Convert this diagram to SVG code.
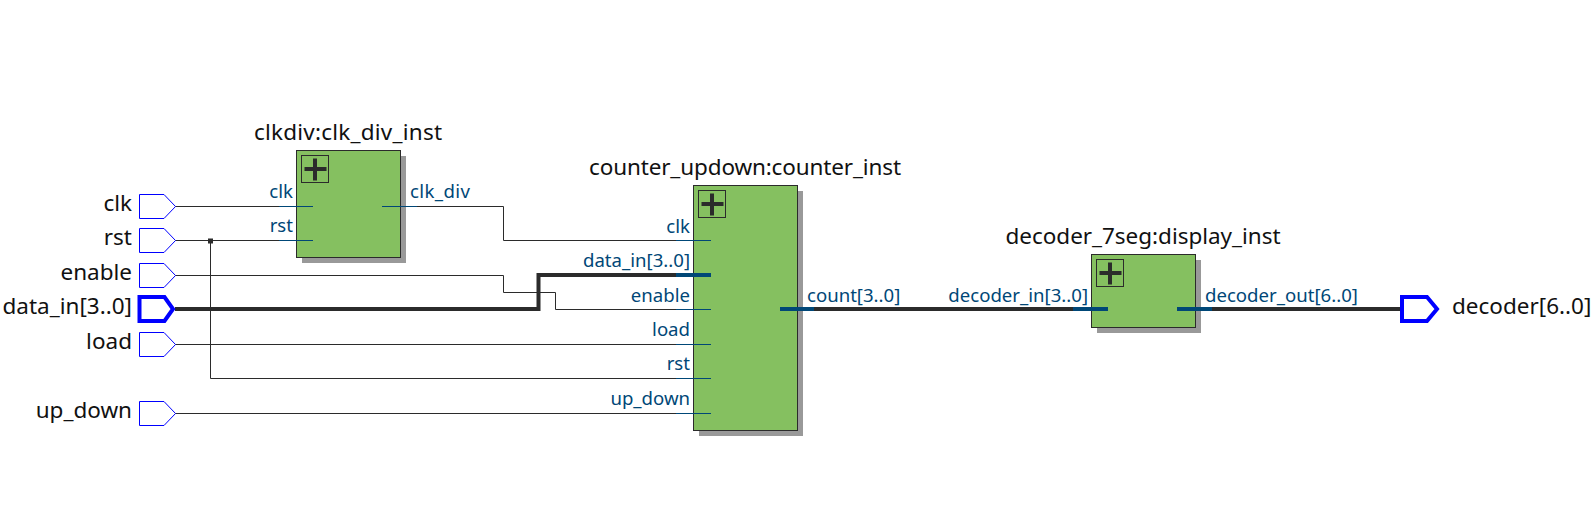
<svg xmlns="http://www.w3.org/2000/svg" width="1592" height="512" viewBox="0 0 1592 512">
<style>
text{font-family:"Noto Sans","Open Sans",sans-serif}
.t{font-size:22.500px;fill:#111}
.e{text-anchor:end}
.p{font-size:18.600px;fill:#004777}
.box{fill:#85c060;stroke:#2b2b2b;stroke-width:1}
.sh{fill:#999}
.icon{fill:none;stroke:#2b2b2b;stroke-width:1}
.plus{fill:#2b2b2b}
.pin{fill:#fff;stroke:#0000ff;stroke-width:1}
.pin.b{stroke-width:4}
.w{fill:none;stroke:#2b2b2b;stroke-width:1}
.w.b{stroke-width:4}
.s{fill:none;stroke:#004777;stroke-width:1}
.s.b{stroke-width:4}
</style>
<defs>
<g id="plus"><rect class="icon" width="27" height="27"/><rect class="plus" x="3" y="11.500" width="22" height="4"/><rect class="plus" x="11.500" y="3" width="4" height="22"/></g>
<path id="pinshape" d="M0-12H24.500L36 0L24.500 12H0Z"/>
<path id="pinbold" d="M0-12H25L33.500 0L25 12H0Z"/>
<path id="pinboldout" d="M0-12H25L35 0L25 12H0Z"/>
</defs>
<g id="connectors">
<path class="w" d="M175 206.500H382M175 240.500H313M175 275.500H503.500V292.500H555.500V309.500H711M175 344.500H711M175 413.500H711M210.500 240.500V378.500H711M382 206.500H503.500V240.500H711"/>
<path class="w b" d="M175 309H538.500V275H711M780 309H1108M1177 309H1402"/>
<rect x="208" y="238.500" width="5" height="5" fill="#2b2b2b"/>
</g>
<g id="clkdiv">
<text class="t" x="348" y="140" text-anchor="middle" textLength="188">clkdiv:clk_div_inst</text>
<rect class="sh" x="302" y="156" width="104" height="107"/>
<rect class="box" x="296.500" y="150.500" width="104" height="107"/>
<use href="#plus" x="301.500" y="155.500"/>
<path class="s" d="M279 206.500H313M279 240.500H313M382 206.500H417"/>
<text class="p e" x="293" y="198">clk</text><text class="p e" x="293" y="232">rst</text><text class="p" x="410" y="198" textLength="60">clk_div</text>
</g>
<g id="counter">
<text class="t" x="745" y="175" text-anchor="middle" textLength="312">counter_updown:counter_inst</text>
<rect class="sh" x="699" y="191" width="104" height="245"/>
<rect class="box" x="693.500" y="185.500" width="104" height="245"/>
<use href="#plus" x="698.500" y="190.500"/>
<path class="s" d="M676 240.500H711M676 309.500H711M676 344.500H711M676 378.500H711M676 413.500H711"/>
<path class="s b" d="M676 275H711M780 309H814"/>
<text class="p e" x="690" y="233">clk</text><text class="p e" x="690" y="267">data_in[3..0]</text><text class="p e" x="690" y="302">enable</text><text class="p e" x="690" y="336">load</text><text class="p e" x="690" y="370">rst</text><text class="p e" x="690" y="405">up_down</text><text class="p" x="807" y="302">count[3..0]</text>
</g>
<g id="decoder">
<text class="t" x="1143" y="244" text-anchor="middle" textLength="275">decoder_7seg:display_inst</text>
<rect class="sh" x="1097" y="260" width="104" height="73"/>
<rect class="box" x="1091.500" y="254.500" width="104" height="73"/>
<use href="#plus" x="1096.500" y="259.500"/>
<path class="s b" d="M1073 309H1108M1177 309H1212"/>
<text class="p e" x="1088" y="302">decoder_in[3..0]</text><text class="p" x="1205" y="302">decoder_out[6..0]</text>
</g>
<g id="pin_clk"><use href="#pinshape" class="pin" x="139.500" y="206.500"/><text class="t e" x="132" y="211">clk</text></g>
<g id="pin_rst"><use href="#pinshape" class="pin" x="139.500" y="240.500"/><text class="t e" x="132" y="245">rst</text></g>
<g id="pin_enable"><use href="#pinshape" class="pin" x="139.500" y="275.500"/><text class="t e" x="132" y="280">enable</text></g>
<g id="pin_data_in"><use href="#pinbold" class="pin b" x="139.500" y="309"/><text class="t e" x="132" y="314">data_in[3..0]</text></g>
<g id="pin_load"><use href="#pinshape" class="pin" x="139.500" y="344.500"/><text class="t e" x="132" y="349">load</text></g>
<g id="pin_up_down"><use href="#pinshape" class="pin" x="139.500" y="413.500"/><text class="t e" x="132" y="418">up_down</text></g>
<g id="pin_decoder"><use href="#pinboldout" class="pin b" x="1402" y="309"/><text class="t" x="1452" y="314">decoder[6..0]</text></g>
</svg>
